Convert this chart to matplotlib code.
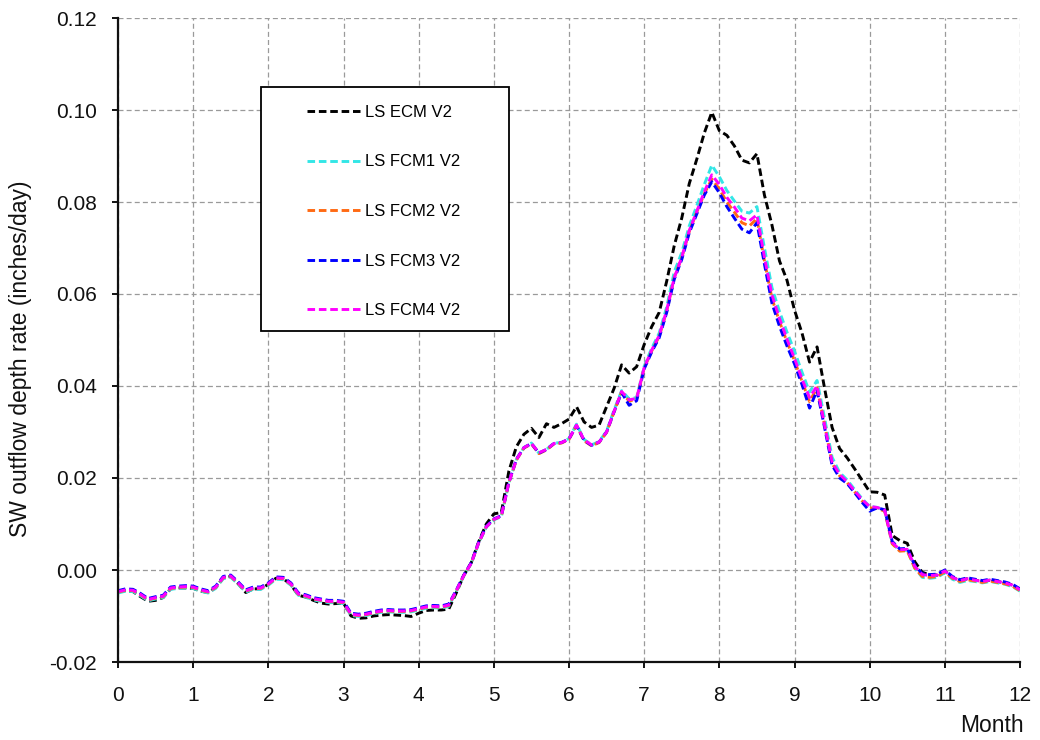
import numpy as np
import matplotlib
matplotlib.use("Agg")
import matplotlib.pyplot as plt
from matplotlib.patches import Rectangle
from matplotlib.ticker import FormatStrFormatter

plt.rcParams['font.family'] = ['Liberation Sans', 'DejaVu Sans']

# sample positions (months, 0.1-month spacing)
months = np.linspace(0, 12, 121)

ls_ecm_v2 = [
    -0.0048, -0.0045, -0.0047, -0.0058, -0.0068, -0.0066, -0.0060, -0.0041, -0.0039, -0.0039,
    -0.0040, -0.0046, -0.0049, -0.0038, -0.0017, -0.0014, -0.0030, -0.0049, -0.0041, -0.0041,
    -0.0031, -0.0018, -0.0019, -0.0032, -0.0055, -0.0059, -0.0066, -0.0072, -0.0074, -0.0073,
    -0.0072, -0.0100, -0.0105, -0.0104, -0.0100, -0.0098, -0.0097, -0.0098, -0.0099, -0.0101,
    -0.0094, -0.0088, -0.0087, -0.0087, -0.0085, -0.0050, -0.0012, 0.0016, 0.0062, 0.0100,
    0.0122, 0.0125, 0.0215, 0.0268, 0.0295, 0.0308, 0.0288, 0.0318, 0.0310, 0.0318,
    0.0328, 0.0355, 0.0322, 0.0310, 0.0315, 0.0355, 0.0395, 0.0446, 0.0428, 0.0442,
    0.0490, 0.0529, 0.0560, 0.0628, 0.0705, 0.0765, 0.0840, 0.0893, 0.0950, 0.0995,
    0.0955, 0.0945, 0.0922, 0.0891, 0.0885, 0.0905, 0.0815, 0.0750, 0.0672, 0.0630,
    0.0565, 0.0515, 0.0452, 0.0485, 0.0395, 0.0310, 0.0264, 0.0244, 0.0220, 0.0195,
    0.0170, 0.0169, 0.0163, 0.0075, 0.0064, 0.0058, 0.0018, -0.0005, -0.0011, -0.0011,
    -0.0002, -0.0016, -0.0023, -0.0019, -0.0022, -0.0025, -0.0022, -0.0025, -0.0028, -0.0033,
    -0.0043,
]

ls_fcm1_v2 = [
    -0.0050, -0.0046, -0.0047, -0.0056, -0.0067, -0.0063, -0.0060, -0.0042, -0.0040, -0.0039,
    -0.0040, -0.0046, -0.0050, -0.0040, -0.0019, -0.0016, -0.0031, -0.0048, -0.0042, -0.0042,
    -0.0033, -0.0020, -0.0021, -0.0033, -0.0055, -0.0059, -0.0065, -0.0068, -0.0071, -0.0071,
    -0.0073, -0.0099, -0.0101, -0.0099, -0.0095, -0.0092, -0.0091, -0.0092, -0.0092, -0.0091,
    -0.0087, -0.0083, -0.0082, -0.0083, -0.0079, -0.0047, -0.0013, 0.0014, 0.0059, 0.0093,
    0.0109, 0.0116, 0.0189, 0.0240, 0.0266, 0.0276, 0.0254, 0.0262, 0.0276, 0.0277,
    0.0286, 0.0317, 0.0284, 0.0272, 0.0279, 0.0302, 0.0348, 0.0390, 0.0372, 0.0375,
    0.0443, 0.0482, 0.0515, 0.0572, 0.0648, 0.0690, 0.0748, 0.0792, 0.0838, 0.0880,
    0.0855, 0.0825, 0.0802, 0.0780, 0.0776, 0.0790, 0.0700, 0.0614, 0.0562, 0.0517,
    0.0476, 0.0430, 0.0387, 0.0412, 0.0330, 0.0245, 0.0212, 0.0196, 0.0175, 0.0155,
    0.0138, 0.0136, 0.0130, 0.0058, 0.0042, 0.0043, 0.0004, -0.0016, -0.0018, -0.0016,
    -0.0006, -0.0020, -0.0027, -0.0023, -0.0025, -0.0028, -0.0025, -0.0028, -0.0031, -0.0036,
    -0.0046,
]

ls_fcm2_v2 = [
    -0.0048, -0.0044, -0.0045, -0.0054, -0.0065, -0.0061, -0.0058, -0.0040, -0.0038, -0.0037,
    -0.0038, -0.0044, -0.0048, -0.0038, -0.0017, -0.0014, -0.0029, -0.0046, -0.0040, -0.0040,
    -0.0031, -0.0018, -0.0019, -0.0031, -0.0053, -0.0057, -0.0063, -0.0066, -0.0069, -0.0069,
    -0.0071, -0.0097, -0.0099, -0.0097, -0.0093, -0.0090, -0.0089, -0.0090, -0.0090, -0.0089,
    -0.0085, -0.0081, -0.0080, -0.0081, -0.0077, -0.0046, -0.0012, 0.0015, 0.0060, 0.0094,
    0.0110, 0.0117, 0.0190, 0.0239, 0.0265, 0.0274, 0.0253, 0.0261, 0.0274, 0.0276,
    0.0284, 0.0314, 0.0281, 0.0270, 0.0277, 0.0299, 0.0344, 0.0387, 0.0367, 0.0372,
    0.0439, 0.0476, 0.0508, 0.0563, 0.0636, 0.0679, 0.0736, 0.0778, 0.0818, 0.0850,
    0.0828, 0.0800, 0.0778, 0.0755, 0.0748, 0.0764, 0.0672, 0.0590, 0.0540, 0.0496,
    0.0455, 0.0410, 0.0366, 0.0396, 0.0316, 0.0232, 0.0205, 0.0190, 0.0170, 0.0150,
    0.0135, 0.0134, 0.0128, 0.0057, 0.0041, 0.0042, 0.0004, -0.0014, -0.0016, -0.0014,
    -0.0004, -0.0018, -0.0025, -0.0021, -0.0024, -0.0027, -0.0024, -0.0027, -0.0030, -0.0035,
    -0.0045,
]

ls_fcm3_v2 = [
    -0.0045, -0.0041, -0.0042, -0.0051, -0.0062, -0.0058, -0.0055, -0.0037, -0.0035, -0.0034,
    -0.0035, -0.0041, -0.0045, -0.0035, -0.0014, -0.0011, -0.0026, -0.0043, -0.0037, -0.0037,
    -0.0028, -0.0015, -0.0016, -0.0028, -0.0050, -0.0054, -0.0060, -0.0063, -0.0066, -0.0066,
    -0.0068, -0.0094, -0.0096, -0.0094, -0.0090, -0.0087, -0.0086, -0.0087, -0.0087, -0.0086,
    -0.0082, -0.0078, -0.0077, -0.0078, -0.0074, -0.0044, -0.0011, 0.0016, 0.0061, 0.0095,
    0.0111, 0.0118, 0.0191, 0.0241, 0.0266, 0.0275, 0.0254, 0.0262, 0.0275, 0.0277,
    0.0285, 0.0314, 0.0282, 0.0271, 0.0278, 0.0300, 0.0344, 0.0386, 0.0358, 0.0368,
    0.0437, 0.0474, 0.0505, 0.0560, 0.0632, 0.0675, 0.0733, 0.0774, 0.0815, 0.0844,
    0.0820, 0.0790, 0.0765, 0.0741, 0.0733, 0.0755, 0.0665, 0.0580, 0.0530, 0.0487,
    0.0448, 0.0403, 0.0352, 0.0390, 0.0310, 0.0228, 0.0200, 0.0188, 0.0168, 0.0147,
    0.0128, 0.0135, 0.0131, 0.0062, 0.0046, 0.0047, 0.0010, -0.0008, -0.0010, -0.0009,
    0.0000, -0.0014, -0.0021, -0.0017, -0.0020, -0.0023, -0.0020, -0.0023, -0.0026, -0.0031,
    -0.0041,
]

ls_fcm4_v2 = [
    -0.0047, -0.0043, -0.0044, -0.0053, -0.0064, -0.0060, -0.0057, -0.0039, -0.0037, -0.0036,
    -0.0037, -0.0043, -0.0047, -0.0037, -0.0016, -0.0013, -0.0028, -0.0045, -0.0039, -0.0039,
    -0.0030, -0.0017, -0.0018, -0.0030, -0.0052, -0.0056, -0.0062, -0.0065, -0.0068, -0.0068,
    -0.0070, -0.0096, -0.0098, -0.0096, -0.0092, -0.0089, -0.0088, -0.0089, -0.0089, -0.0088,
    -0.0084, -0.0080, -0.0079, -0.0080, -0.0076, -0.0045, -0.0012, 0.0015, 0.0060, 0.0094,
    0.0110, 0.0118, 0.0190, 0.0240, 0.0266, 0.0275, 0.0255, 0.0262, 0.0275, 0.0277,
    0.0285, 0.0315, 0.0283, 0.0272, 0.0278, 0.0300, 0.0345, 0.0388, 0.0370, 0.0373,
    0.0440, 0.0478, 0.0510, 0.0565, 0.0635, 0.0680, 0.0738, 0.0780, 0.0822, 0.0859,
    0.0838, 0.0810, 0.0789, 0.0765, 0.0759, 0.0772, 0.0680, 0.0598, 0.0547, 0.0502,
    0.0460, 0.0415, 0.0375, 0.0400, 0.0315, 0.0235, 0.0208, 0.0192, 0.0172, 0.0153,
    0.0138, 0.0136, 0.0130, 0.0060, 0.0044, 0.0045, 0.0008, -0.0010, -0.0012, -0.0011,
    -0.0002, -0.0016, -0.0023, -0.0019, -0.0022, -0.0025, -0.0022, -0.0025, -0.0028, -0.0033,
    -0.0043,
]

series_labels = ["LS ECM V2", "LS FCM1 V2", "LS FCM2 V2", "LS FCM3 V2", "LS FCM4 V2"]
series_values = [ls_ecm_v2, ls_fcm1_v2, ls_fcm2_v2, ls_fcm3_v2, ls_fcm4_v2]
series_colors = ["#000000", "#33E6E6", "#FF6A13", "#0000FF", "#FF00FF"]

x_ticks = list(range(0, 13))
y_ticks = [-0.02, 0.00, 0.02, 0.04, 0.06, 0.08, 0.10, 0.12]

W, H = 1040, 740
fig = plt.figure(figsize=(W / 100, H / 100), dpi=100)
ax = fig.add_axes([118 / W, 1 - 662 / H, (1020 - 118) / W, (662 - 18) / H])

for vals, lab, col in zip(series_values, series_labels, series_colors):
    ax.plot(months, vals, color=col, lw=2.1, linestyle=(0, (2.6, 1.3)),
            label=lab, zorder=2)

ax.set_xlim(0, 12)
ax.set_ylim(-0.02, 0.12)
ax.set_xticks(x_ticks)
ax.set_yticks(y_ticks)
ax.yaxis.set_major_formatter(FormatStrFormatter("%.2f"))

ax.grid(True, color="#9a9a9a", lw=0.9, linestyle=(0, (4, 2.5)))
for s in ("top", "right"):
    ax.spines[s].set_visible(False)
for s in ("left", "bottom"):
    ax.spines[s].set_linewidth(1.6)
    ax.spines[s].set_color("#111111")

ax.tick_params(axis="both", direction="out", length=4, width=1.4,
               labelsize=15, colors="#111111")
ax.tick_params(axis="y", pad=11)
ax.tick_params(axis="x", pad=13)

ax.set_ylabel("SW outflow depth rate (inches/day)", fontsize=16.5, color="#111111")
ax.yaxis.set_label_coords((32 - 118) / (1020 - 118), (662 - 359) / (662 - 18))
fig.text(992 / W, 1 - 726 / H, "Month", fontsize=16.5, ha="center", va="center",
         color="#111111")

# legend box
box = Rectangle((260.5 / W, 1 - 330.5 / H), (509 - 260.5) / W, (330.5 - 87) / H,
                transform=fig.transFigure, facecolor="white", edgecolor="black",
                lw=1.3, zorder=4)
ax.add_patch(box)

leg = ax.legend(loc="upper left", bbox_to_anchor=(307 / W, 1 - 105 / H),
                bbox_transform=fig.transFigure, frameon=False, fontsize=12,
                handlelength=3.2, handletextpad=0.3, labelspacing=2.07,
                borderpad=0, borderaxespad=0)
leg.set_zorder(5)

fig.savefig("out.png", dpi=100)
